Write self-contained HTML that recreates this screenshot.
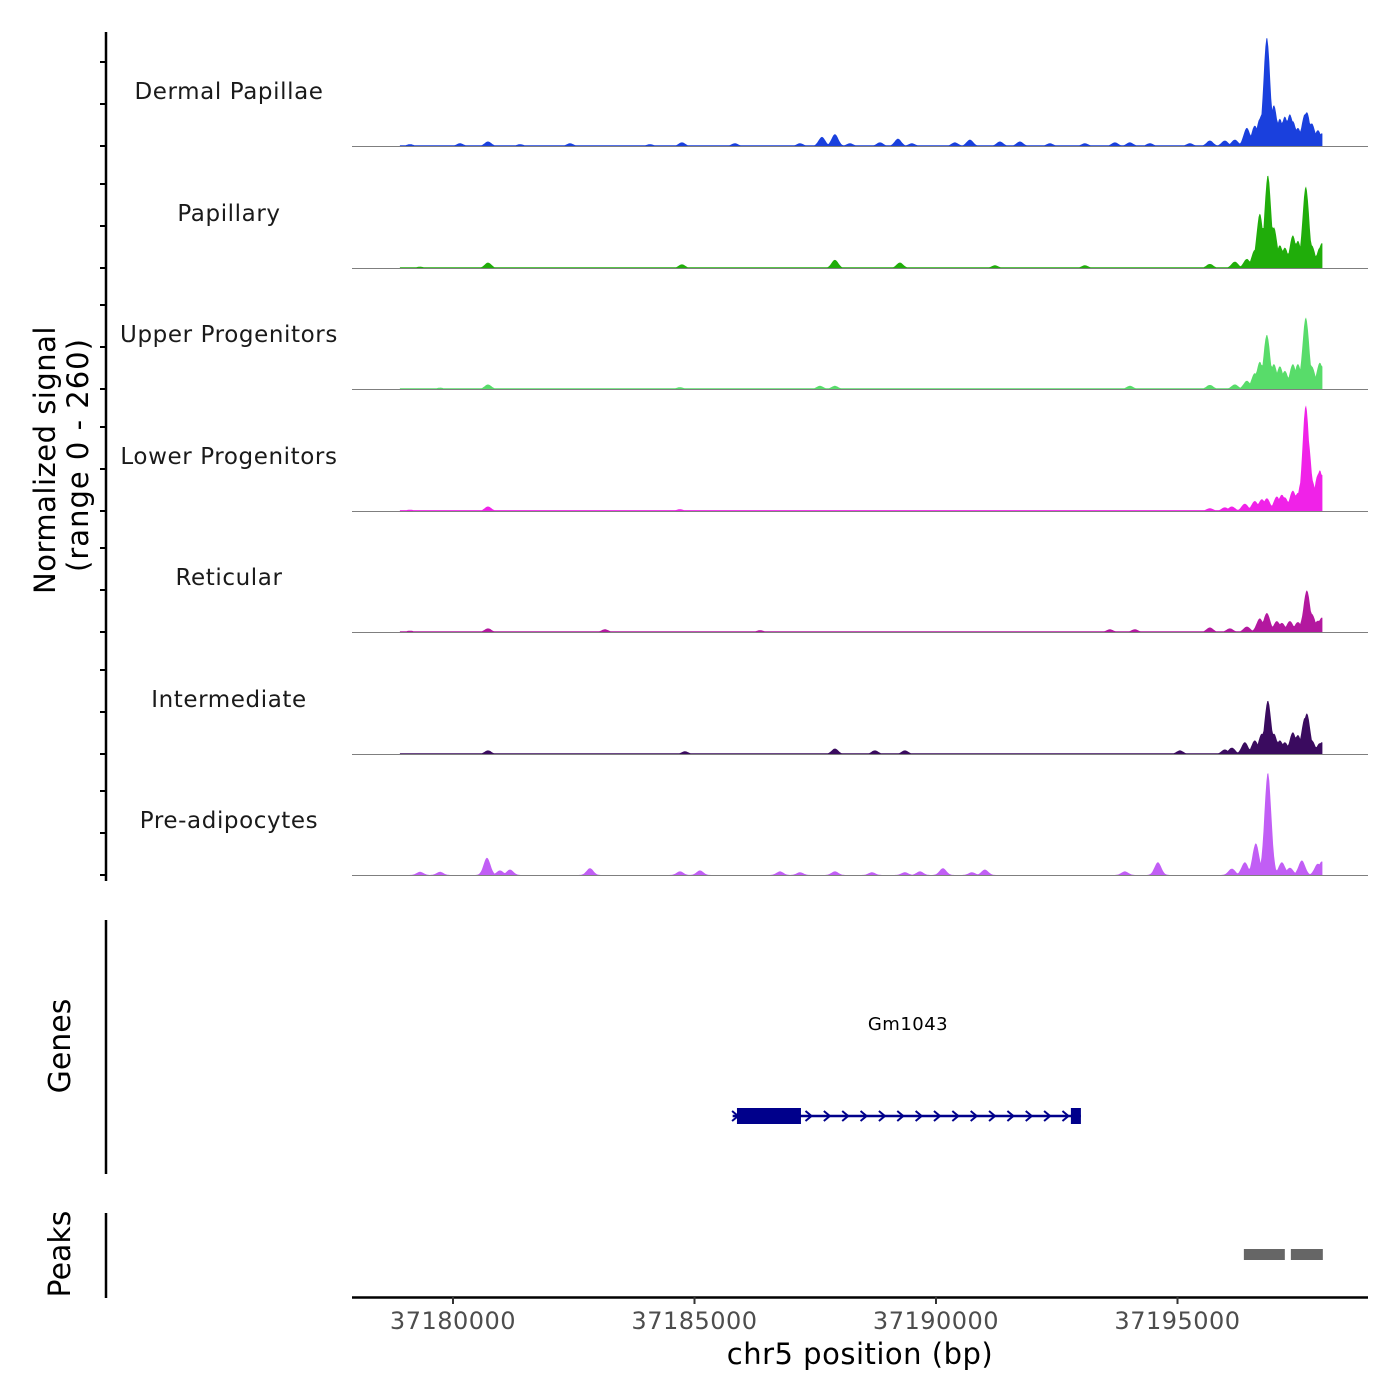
<!DOCTYPE html>
<html><head><meta charset="utf-8"><style>
html,body{margin:0;padding:0;background:#fff;}
svg{display:block;font-family:"DejaVu Sans","Liberation Sans",sans-serif;}
</style></head><body>
<svg id="chart" width="1400" height="1400" viewBox="0 0 1400 1400" xmlns="http://www.w3.org/2000/svg"></svg>
<script>
// ---- data ----
const ORIGIN = 37180000;
const xTicks = [37180000, 37185000, 37190000, 37195000];
const trackNames = ["Dermal Papillae","Papillary","Upper Progenitors","Lower Progenitors","Reticular","Intermediate","Pre-adipocytes"];
const trackColors = ["#1a40dd","#20ad0a","#58dc6a","#f022e8","#b3189f","#3a0b5f","#c15ef5"];
const yRangeMax = 260;
const dataStart = 37178900, dataEnd = 37198000;
const floorVals = [1.5, 1.5, 1.5, 2, 1.5, 1.5, 0];
// peak offsets (bp from ORIGIN) and heights (signal units)
const dpPos = [-890,145,725,1387,2422,4078,4740,5837,7183,7638,7907,8218,8839,9212,9501,10391,10702,11323,11737,12358,13082,13703,14014,14428,15256,15670,15980,16187,16436,16601,16705,16746,16850,16995,17119,17222,17326,17388,17492,17636,17678,17781,17906,17988];
const dpVal = [4,6,10,4,6,4,8,6,6,20,26,6,8,16,6,8,14,10,10,6,6,8,8,6,6,12,12,14,40,45,60,70,240,90,60,65,70,55,40,70,75,50,35,28];
const paPos = [-683,725,4740,7907,9253,11219,13082,15670,16187,16436,16601,16705,16871,16995,17119,17222,17388,17492,17657,17781,17947,17988];
const paVal = [3,12,8,18,12,6,6,9,14,20,40,120,205,90,50,45,72,60,180,50,45,55];
const upPos = [-269,725,4699,7597,7907,14014,15670,16187,16436,16601,16705,16850,16995,17119,17222,17388,17492,17636,17657,17781,17947,17988];
const upVal = [3,10,4,7,7,7,9,10,18,35,60,120,55,50,40,55,55,110,158,50,58,50];
const loPos = [-890,725,4699,15670,15980,16125,16394,16601,16746,16850,17057,17160,17222,17326,17388,17492,17574,17657,17700,17781,17906,17947,17988];
const loVal = [3,10,4,6,8,10,16,22,26,28,32,36,30,20,45,40,70,233,160,70,80,90,80];
const rePos = [-890,725,3146,6355,13600,14117,15670,16084,16436,16705,16850,17057,17160,17326,17492,17636,17678,17781,17906,17988];
const reVal = [3,8,6,4,6,6,10,8,12,30,42,24,20,24,22,45,92,40,25,32];
const inPos = [725,4802,7907,8735,9356,15049,15980,16125,16394,16601,16746,16871,16995,17119,17222,17388,17492,17636,17678,17781,17947,17988];
const inVal = [8,6,12,8,8,8,10,14,26,30,45,118,45,30,26,48,42,80,90,30,24,26];
const prPos = [-683,-269,704,973,1180,2836,4699,5113,6769,7183,7907,8673,9356,9667,10143,10743,11012,13910,14594,16125,16394,16622,16871,17160,17326,17574,17906,17988];
const prVal = [7,7,38,10,12,15,8,10,8,6,8,6,6,8,15,6,12,8,28,14,28,70,226,28,16,32,25,30];
const trackPos = [dpPos,paPos,upPos,loPos,rePos,inPos,prPos];
const trackVal = [dpVal,paVal,upVal,loVal,reVal,inVal,prVal];
const geneName = "Gm1043";
const geneStart = 37185790, geneEnd = 37193000;
const exonStarts = [37185879, 37192793];
const exonEnds = [37187204, 37193000];
const peakStarts = [37196374, 37197347];
const peakEnds = [37197222, 37198009];

// ---- layout ----
const NS = "http://www.w3.org/2000/svg";
const svg = document.getElementById("chart");
const X0 = 352, X1 = 1368;
const xBp = bp => 453 + (bp - 37180000) * (241.5 / 5000);
const baselines = [146,268,389,511,632,754,875];
const yScale = v => v * (118 / yRangeMax);
function mk(tag, attrs, parent) {
  const e = document.createElementNS(NS, tag);
  for (const k in attrs) e.setAttribute(k, attrs[k]);
  (parent || svg).appendChild(e);
  return e;
}
function txt(s, attrs) { const t = mk("text", attrs); t.textContent = s; return t; }

// tracks
for (let i = 0; i < trackNames.length; i++) {
  const g = mk("g", {});
  
  
  const base = baselines[i];
  const pos = trackPos[i], val = trackVal[i];
  const sigma = 70;
  let d = "M" + xBp(dataStart).toFixed(1) + "," + base;
  for (let b = dataStart; b <= dataEnd; b += 20) {
    let v = floorVals[i];
    for (let k = 0; k < pos.length; k++) {
      const z = (b - (ORIGIN + pos[k])) / sigma;
      if (Math.abs(z) < 6) v = Math.max(v, val[k] * Math.exp(-z * z / 2));
    }
    d += "L" + xBp(b).toFixed(1) + "," + (base - yScale(v)).toFixed(1);
  }
  d += "L" + xBp(dataEnd).toFixed(1) + "," + base + "Z";
  const p = mk("path", {d: d, fill: trackColors[i], stroke: "none"}, g);
  
  
  const bl = mk("line", {x1: X0, x2: X1, y1: base + 0.5, y2: base + 0.5, stroke: "#7f7f7f", "stroke-width": 1}, g);
  
  
  const lab = txt(trackNames[i], {x: 229, y: base - 47, "font-size": 23, "text-anchor": "middle", fill: "#1a1a1a", "letter-spacing": "0.6"});
  
  
  for (const off of [84, 42, 0]) {
    const t = mk("line", {x1: 100, x2: 106, y1: base - off, y2: base - off, stroke: "#000", "stroke-width": 2});
    
    
  }
}
</script>
<script>
// static axes
(function(){
  const NS = "http://www.w3.org/2000/svg";
  const svg = document.getElementById("chart");
  const xBp = bp => 453 + (bp - 37180000) * (241.5 / 5000);
  function mk(tag, attrs) { const e = document.createElementNS(NS, tag); for (const k in attrs) e.setAttribute(k, attrs[k]); svg.appendChild(e); return e; }
  function txt(s, attrs) { const t = mk("text", attrs); t.textContent = s; return t; }
  let e;
  e = mk("line", {x1:106, x2:106, y1:32, y2:881, stroke:"#000", "stroke-width":2.5});
   
  e = mk("line", {x1:106, x2:106, y1:920, y2:1174, stroke:"#000", "stroke-width":2.5});
   
  e = mk("line", {x1:106, x2:106, y1:1213, y2:1298, stroke:"#000", "stroke-width":2.5});
   
  e = txt("Normalized signal", {transform:"translate(55,460) rotate(-90)", "font-size":29, "text-anchor":"middle", fill:"#000", "letter-spacing":"0.5"});
   
  e = txt("(range 0 - 260)", {transform:"translate(88,455) rotate(-90)", "font-size":29, "text-anchor":"middle", fill:"#000", "letter-spacing":"1"});
   
  e = txt("Genes", {transform:"translate(70,1046) rotate(-90)", "font-size":30, "text-anchor":"middle", fill:"#000"});
   
  e = txt("Peaks", {transform:"translate(70,1254) rotate(-90)", "font-size":30, "text-anchor":"middle", fill:"#000"});
   

  // gene
  const gy = 1116;
  e = mk("line", {x1:xBp(geneStart), x2:xBp(geneEnd), y1:gy, y2:gy, stroke:"#00008b", "stroke-width":2.5});
   
  for (let b = geneStart + 50; b < geneEnd - 150; b += 380) {
    const x = xBp(b);
    e = mk("path", {d:`M${x-3},${gy-5}L${x+3},${gy}L${x-3},${gy+5}`, fill:"none", stroke:"#00008b", "stroke-width":2});
     
  }
  for (let k = 0; k < exonStarts.length; k++) {
    e = mk("rect", {x:xBp(exonStarts[k]), y:gy-8, width:xBp(exonEnds[k])-xBp(exonStarts[k]), height:16, fill:"#00008b"});
     
  }
  e = txt(geneName, {x:908, y:1030, "font-size":18, "text-anchor":"middle", fill:"#000", "letter-spacing":"0.5"});
   

  // peaks
  for (let k = 0; k < peakStarts.length; k++) {
    e = mk("rect", {x:xBp(peakStarts[k]), y:1249, width:xBp(peakEnds[k])-xBp(peakStarts[k]), height:11, fill:"#666"});
     
  }

  // x axis
  e = mk("line", {x1:352, x2:1368, y1:1297.5, y2:1297.5, stroke:"#000", "stroke-width":2.5});
   
  for (const t of xTicks) {
    const x = xBp(t);
    e = mk("line", {x1:x, x2:x, y1:1297, y2:1304, stroke:"#333", "stroke-width":2});
     
    e = txt(String(t), {x:x, y:1329, "font-size":24, "text-anchor":"middle", fill:"#4d4d4d", "letter-spacing":"0.5"});
     
  }
  e = txt("chr5 position (bp)", {x:860, y:1364, "font-size":29, "text-anchor":"middle", fill:"#000", "letter-spacing":"0.5"});
   
})();
</script>
</body></html>
